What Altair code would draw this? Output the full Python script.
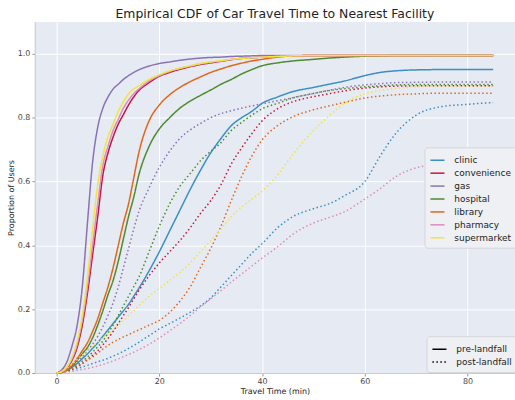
import altair as alt
import pandas as pd

# Travel-time grid (minutes) shared by every curve
minutes = [0, 1, 2, 3, 4, 5, 6, 7, 8, 9, 10, 11, 12, 13, 14, 15, 16, 18, 20, 22, 24,
           26, 28, 30, 32, 34, 36, 38, 40, 43, 46, 50, 53, 56, 60, 63, 66, 70, 75, 80, 85]

facilities = ["clinic", "convenience", "gas", "hospital", "library", "pharmacy", "supermarket"]
palette = ["#3A8FC4", "#C4163F", "#8A72B5", "#4E8A2E", "#E2661A", "#DD8CBF", "#F2E444"]

# Cumulative share of users reached, before landfall
pre_clinic = [0, 0.002, 0.008, 0.018, 0.03, 0.045, 0.06, 0.077, 0.095, 0.115, 0.135, 0.155, 0.175, 0.195,
              0.215, 0.24, 0.265, 0.32, 0.38, 0.445, 0.51, 0.575, 0.635, 0.69, 0.735, 0.775, 0.80, 0.82,
              0.845, 0.865, 0.882, 0.895, 0.905, 0.915, 0.932, 0.942, 0.947, 0.95, 0.951, 0.951, 0.951]
pre_convenience = [0, 0.004, 0.015, 0.04, 0.08, 0.15, 0.25, 0.37, 0.49, 0.62, 0.69, 0.74, 0.78, 0.81,
                   0.84, 0.865, 0.885, 0.91, 0.93, 0.942, 0.952, 0.96, 0.967, 0.972, 0.977, 0.982, 0.986,
                   0.988, 0.99, 0.992, 0.994, 0.995, 0.995, 0.995, 0.995, 0.995, 0.995, 0.995, 0.995, 0.995, 0.995]
pre_gas = [0, 0.01, 0.035, 0.085, 0.15, 0.27, 0.47, 0.66, 0.77, 0.83, 0.865, 0.89, 0.905, 0.92,
           0.932, 0.942, 0.95, 0.962, 0.97, 0.975, 0.98, 0.984, 0.987, 0.989, 0.99, 0.992, 0.993,
           0.994, 0.995, 0.995, 0.995, 0.995, 0.995, 0.995, 0.995, 0.995, 0.995, 0.995, 0.995, 0.995, 0.995]
pre_hospital = [0, 0.003, 0.01, 0.022, 0.04, 0.06, 0.08, 0.11, 0.15, 0.195, 0.245, 0.29, 0.35, 0.42,
                0.49, 0.55, 0.62, 0.71, 0.765, 0.80, 0.83, 0.852, 0.87, 0.887, 0.905, 0.92, 0.937, 0.951,
                0.963, 0.972, 0.978, 0.983, 0.987, 0.99, 0.993, 0.994, 0.995, 0.995, 0.995, 0.995, 0.995]
pre_library = [0, 0.003, 0.01, 0.025, 0.045, 0.07, 0.095, 0.13, 0.17, 0.22, 0.27, 0.33, 0.40, 0.47,
               0.53, 0.61, 0.69, 0.79, 0.84, 0.872, 0.895, 0.913, 0.928, 0.942, 0.953, 0.963, 0.971,
               0.978, 0.983, 0.99, 0.994, 0.995, 0.995, 0.995, 0.995, 0.995, 0.995, 0.995, 0.995, 0.995, 0.995]
pre_pharmacy = [0, 0.004, 0.017, 0.045, 0.09, 0.165, 0.27, 0.40, 0.53, 0.65, 0.71, 0.76, 0.795, 0.83,
                0.855, 0.875, 0.89, 0.915, 0.932, 0.945, 0.955, 0.962, 0.969, 0.974, 0.978, 0.983, 0.986,
                0.988, 0.99, 0.992, 0.994, 0.995, 0.995, 0.995, 0.995, 0.995, 0.995, 0.995, 0.995, 0.995, 0.995]
pre_supermarket = [0, 0.005, 0.02, 0.05, 0.10, 0.18, 0.30, 0.45, 0.59, 0.68, 0.74, 0.78, 0.82, 0.85,
                   0.875, 0.89, 0.90, 0.92, 0.935, 0.947, 0.955, 0.963, 0.97, 0.975, 0.979, 0.983, 0.986,
                   0.988, 0.99, 0.992, 0.994, 0.995, 0.995, 0.995, 0.995, 0.995, 0.995, 0.995, 0.995, 0.995, 0.995]

# Cumulative share of users reached, after landfall
post_clinic = [0, 0.002, 0.005, 0.009, 0.014, 0.019, 0.024, 0.03, 0.035, 0.04, 0.046, 0.053, 0.06, 0.068,
               0.077, 0.086, 0.096, 0.117, 0.138, 0.155, 0.172, 0.19, 0.21, 0.235, 0.27, 0.305, 0.34, 0.375,
               0.405, 0.455, 0.49, 0.515, 0.53, 0.555, 0.60, 0.68, 0.75, 0.808, 0.835, 0.842, 0.848]
post_convenience = [0, 0.002, 0.006, 0.012, 0.02, 0.03, 0.042, 0.055, 0.07, 0.088, 0.108, 0.13, 0.155,
                    0.18, 0.205, 0.232, 0.258, 0.305, 0.345, 0.38, 0.415, 0.455, 0.50, 0.54, 0.59, 0.655,
                    0.705, 0.75, 0.79, 0.828, 0.85, 0.866, 0.875, 0.884, 0.893, 0.897, 0.899, 0.90, 0.90, 0.90, 0.90]
post_gas = [0, 0.003, 0.01, 0.02, 0.035, 0.05, 0.07, 0.09, 0.115, 0.145, 0.18, 0.22, 0.27, 0.33, 0.39,
            0.45, 0.505, 0.58, 0.645, 0.695, 0.735, 0.762, 0.782, 0.80, 0.813, 0.822, 0.83, 0.837, 0.844,
            0.853, 0.863, 0.876, 0.886, 0.895, 0.903, 0.907, 0.91, 0.911, 0.912, 0.912, 0.912]
post_hospital = [0, 0.002, 0.007, 0.015, 0.025, 0.037, 0.05, 0.065, 0.082, 0.10, 0.125, 0.15, 0.18, 0.21,
                 0.24, 0.27, 0.30, 0.38, 0.46, 0.53, 0.585, 0.625, 0.665, 0.695, 0.722, 0.76, 0.785, 0.808,
                 0.828, 0.845, 0.862, 0.876, 0.885, 0.891, 0.897, 0.90, 0.903, 0.904, 0.904, 0.904, 0.904]
post_library = [0, 0.003, 0.008, 0.015, 0.022, 0.03, 0.04, 0.05, 0.062, 0.075, 0.087, 0.097, 0.105, 0.113,
                0.12, 0.128, 0.135, 0.15, 0.165, 0.19, 0.225, 0.27, 0.33, 0.39, 0.46, 0.54, 0.615, 0.68,
                0.73, 0.775, 0.803, 0.825, 0.837, 0.848, 0.862, 0.868, 0.872, 0.875, 0.877, 0.877, 0.877]
post_pharmacy = [0, 0.001, 0.003, 0.005, 0.008, 0.011, 0.014, 0.018, 0.022, 0.027, 0.032, 0.038, 0.044,
                 0.051, 0.058, 0.065, 0.073, 0.09, 0.11, 0.132, 0.155, 0.18, 0.207, 0.232, 0.258, 0.285,
                 0.31, 0.335, 0.36, 0.395, 0.435, 0.47, 0.487, 0.505, 0.545, 0.578, 0.615, 0.643, 0.655, 0.66, 0.66]
post_supermarket = [0, 0.005, 0.015, 0.028, 0.042, 0.056, 0.07, 0.083, 0.097, 0.11, 0.122, 0.135, 0.15,
                    0.165, 0.18, 0.195, 0.21, 0.24, 0.265, 0.29, 0.315, 0.345, 0.38, 0.415, 0.45, 0.49,
                    0.52, 0.545, 0.57, 0.62, 0.685, 0.76, 0.805, 0.845, 0.875, 0.885, 0.892, 0.897, 0.90, 0.90, 0.90]

pre = [pre_clinic, pre_convenience, pre_gas, pre_hospital, pre_library, pre_pharmacy, pre_supermarket]
post = [post_clinic, post_convenience, post_gas, post_hospital, post_library, post_pharmacy, post_supermarket]

rows = []
for name, a, b in zip(facilities, pre, post):
    for t, v in zip(minutes, a):
        rows.append({"time": t, "share": v, "facility": name, "period": "pre-landfall", "order": 0})
    for t, v in zip(minutes, b):
        rows.append({"time": t, "share": v, "facility": name, "period": "post-landfall", "order": 1})
df = pd.DataFrame(rows)
df["series"] = df["facility"] + "|" + df["period"]

FONT = "DejaVu Sans"
legend_style = dict(orient="none", symbolType="stroke", symbolSize=200, symbolStrokeWidth=1.5,
                    labelFontSize=9, labelOffset=9, rowPadding=0, padding=5,
                    fillColor="#EEF0F4", strokeColor="#D4D6DA", cornerRadius=3)

chart = alt.Chart(df).mark_line(strokeWidth=1.5, interpolate="monotone").encode(
    x=alt.X("time:Q", title="Travel Time (min)",
            scale=alt.Scale(domain=[-4.25, 89.25], nice=False, zero=False),
            axis=alt.Axis(values=[0, 20, 40, 60, 80], format="d")),
    y=alt.Y("share:Q", title="Proportion of Users",
            scale=alt.Scale(domain=[0, 1.1], nice=False),
            axis=alt.Axis(values=[0, 0.2, 0.4, 0.6, 0.8, 1.0], format=".1f")),
    color=alt.Color("facility:N", title=None,
                    scale=alt.Scale(domain=facilities, range=palette),
                    legend=alt.Legend(legendX=392, legendY=126, **legend_style)),
    strokeDash=alt.StrokeDash("period:N", title=None,
                              scale=alt.Scale(domain=["pre-landfall", "post-landfall"],
                                              range=[[1, 0], [1.5, 2.5]]),
                              legend=alt.Legend(legendX=394, legendY=316,
                                                symbolStrokeColor="black", **legend_style)),
    detail="series:N",
    order="order:Q",
).properties(
    width=483,
    height=353,
    title=alt.TitleParams("Empirical CDF of Car Travel Time to Nearest Facility",
                          fontSize=12.5, font=FONT, fontWeight="normal", color="#222222",
                          anchor="middle", offset=2),
    autosize=alt.AutoSizeParams(type="none"),
    padding={"left": 35, "top": 21, "right": 0, "bottom": 26},
).configure(
    font=FONT, background="white"
).configure_view(
    fill="#E5EAF3", strokeWidth=0
).configure_axis(
    labelFont=FONT, titleFont=FONT, labelFontSize=8, titleFontSize=8,
    labelColor="#444444", titleColor="#222222", titleFontWeight="normal",
    gridColor="white", gridWidth=1, domainColor="#C8CBD0", tickColor="#9A9A9A",
    tickSize=3, labelPadding=2, titlePadding=2,
).configure_legend(
    labelFont=FONT, labelColor="#222222", labelLimit=200,
)

chart.save("out.html", embed_options={"renderer": "svg", "actions": False})
